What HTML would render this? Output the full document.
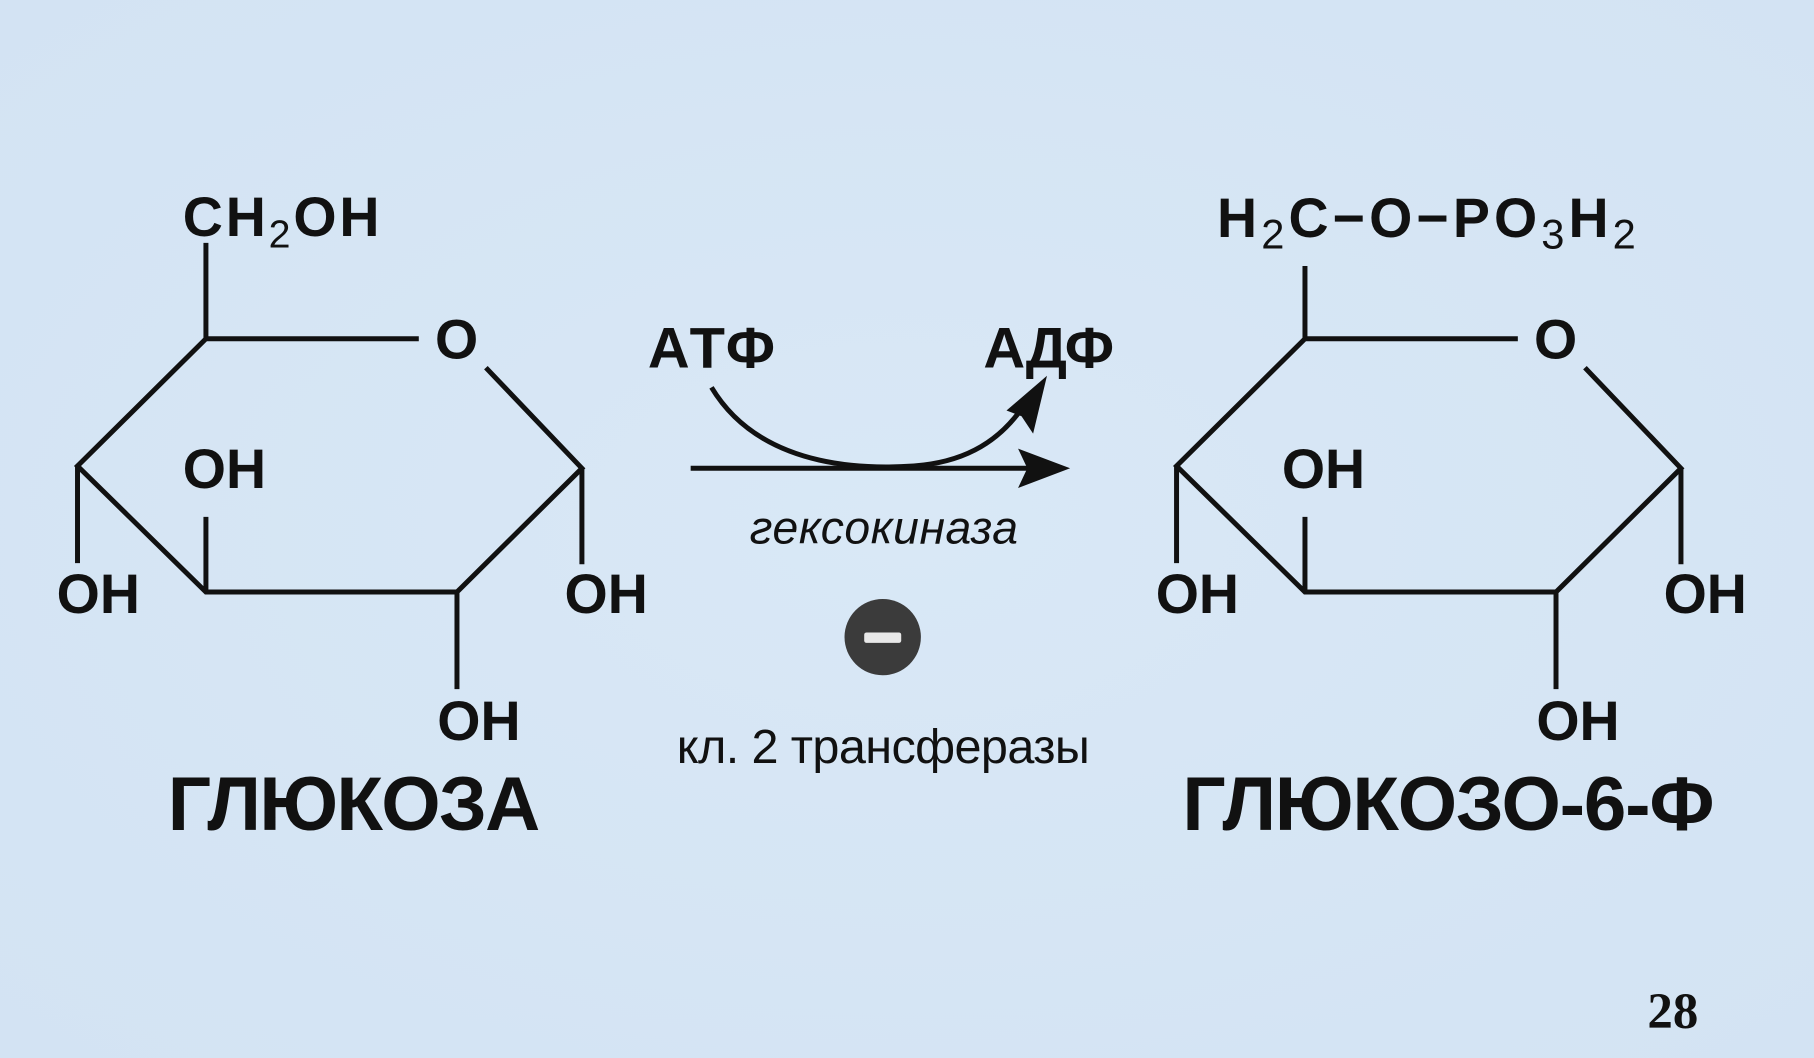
<!DOCTYPE html>
<html><head><meta charset="utf-8"><style>
html,body{margin:0;padding:0;background:#d7e6f5;}
svg{display:block}
text{font-family:"Liberation Sans",sans-serif;fill:#111;}
.b{font-weight:bold;}
</style></head><body>
<svg width="1814" height="1058" viewBox="0 0 1568 915" preserveAspectRatio="none" xmlns="http://www.w3.org/2000/svg">
<defs>
<radialGradient id="bg" cx="50%" cy="50%" r="70%"><stop offset="0" stop-color="#d9e8f6"/><stop offset="1" stop-color="#d3e3f3"/></radialGradient>
</defs>
<rect width="1568" height="915" fill="url(#bg)"/>
<g stroke="#111" stroke-width="4.3" fill="none" stroke-linecap="butt">
<path d="M178 210 V293 H362 M420 318 L503 405 L395 512 H178 L67 403 L178 293 M67 403 V487 M178 512 V447 M503 405 V488 M395 512 V596"/>
<path d="M1128 230 V293 H1312 M1370 318 L1453 405 L1345 512 H1128 L1017 403 L1128 293 M1017 403 V487 M1128 512 V447 M1453 405 V488 M1345 512 V596"/>
<path d="M597 405 H890"/>
<path d="M615 335 C660 410 760 405 790 403 C830 400 860 385 882 355"/>
</g>
<polygon points="925,405 880,388 888,405 880,422" fill="#111"/>
<polygon points="905,325 870,355 883,360 893,375" fill="#111"/>
<text class="b" x="158" y="204" font-size="48" textLength="170">CH<tspan font-weight="normal" font-size="34" dy="10">2</tspan><tspan dy="-10">OH</tspan></text>
<text class="b" x="376" y="310" font-size="48">O</text>
<text class="b" x="158" y="422" font-size="48" textLength="72">OH</text>
<text class="b" x="49" y="530" font-size="48" textLength="72">OH</text>
<text class="b" x="488" y="530" font-size="48" textLength="72">OH</text>
<text class="b" x="378" y="640" font-size="48" textLength="72">OH</text>
<text class="b" x="145" y="718" font-size="66" textLength="322">ГЛЮКОЗА</text>
<text class="b" x="1052" y="205" font-size="48" textLength="362">H<tspan font-weight="normal" font-size="36" dy="10">2</tspan><tspan dy="-10">C−O−PO</tspan><tspan font-weight="normal" font-size="36" dy="10">3</tspan><tspan dy="-10">H</tspan><tspan font-weight="normal" font-size="36" dy="10">2</tspan></text>
<text class="b" x="1326" y="310" font-size="48">O</text>
<text class="b" x="1108" y="422" font-size="48" textLength="72">OH</text>
<text class="b" x="999" y="530" font-size="48" textLength="72">OH</text>
<text class="b" x="1438" y="530" font-size="48" textLength="72">OH</text>
<text class="b" x="1328" y="640" font-size="48" textLength="72">OH</text>
<text class="b" x="1022" y="718" font-size="66" textLength="460">ГЛЮКОЗО-6-Ф</text>
<text class="b" x="560" y="318" font-size="50" textLength="110">АТФ</text>
<text class="b" x="850" y="318" font-size="50" textLength="113">АДФ</text>
<text x="648" y="470" font-size="40" font-style="italic" textLength="232">гексокиназа</text>
<circle cx="763" cy="551" r="33" fill="#3b3b3b"/>
<rect x="747" y="547" width="32" height="9" rx="2" fill="#e8e8e8"/>
<text x="585" y="660" font-size="42" textLength="357">кл. 2 трансферазы</text>
<text x="1424" y="889" font-size="44" font-weight="bold" style="font-family:'Liberation Serif',serif">28</text>
</svg>
</body></html>
